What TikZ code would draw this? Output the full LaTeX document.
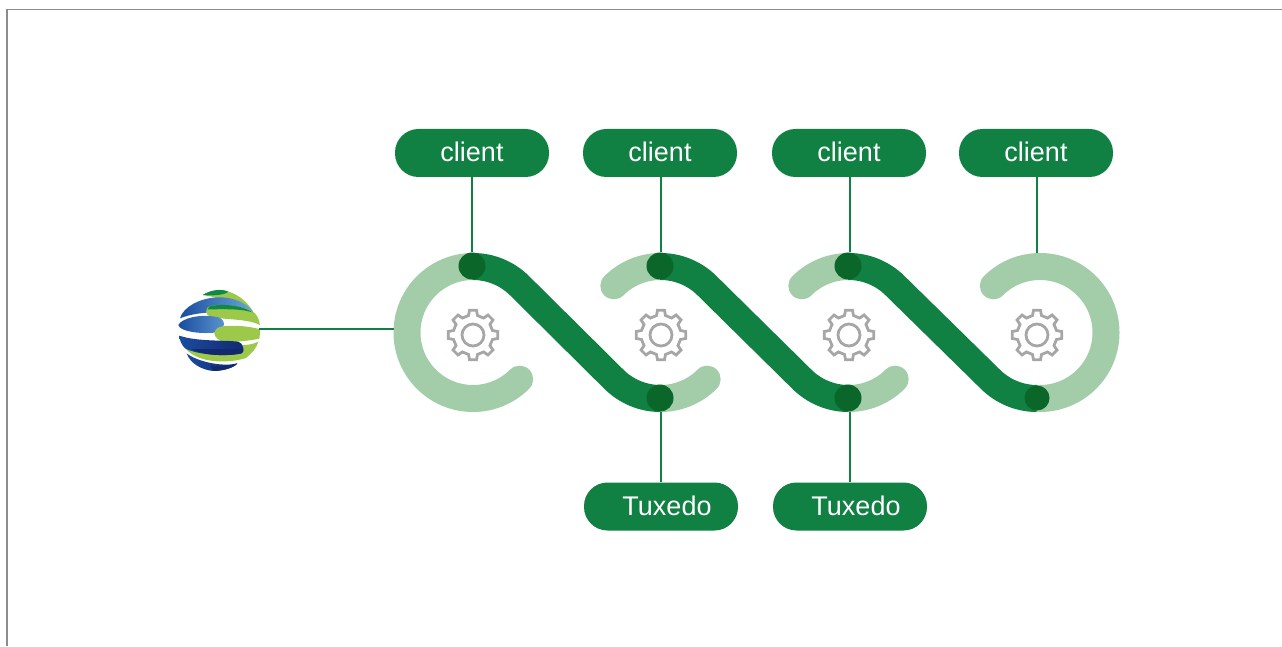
\documentclass[tikz,border=0pt]{standalone}
\usepackage{fontspec}
\setmainfont{Liberation Sans}
\usetikzlibrary{positioning}
\definecolor{ribbon}{HTML}{108043}
\definecolor{ribbonlight}{HTML}{A3CDA9}
\definecolor{joint}{HTML}{0A6629}
\definecolor{gearcol}{HTML}{A6A6A6}
\definecolor{framecol}{HTML}{8C8C8C}
\definecolor{limeg}{HTML}{9CC94A}
\definecolor{deepg}{HTML}{0E8A45}
\definecolor{navy}{HTML}{12296F}
\definecolor{midblue}{HTML}{1A4C9F}
\definecolor{skyb}{HTML}{6BA8DA}

\begin{document}
\begin{tikzpicture}[x=1pt, y=1pt,
    pill/.style={draw=none, fill=ribbon, text=white, rounded corners=23.5pt, minimum width=154pt, minimum height=48pt, inner sep=0pt, text depth=2pt, font=\fontsize{27}{27}\selectfont},
    wire/.style={draw=ribbon, line width=1.6pt},
    band/.style={line width=27pt, draw=ribbon},
    bandlight/.style={line width=27pt, draw=ribbonlight, line cap=round},
    dot/.style={circle, fill=joint, minimum size=27pt, inner sep=0pt},
    gear/.pic={
      \draw[gearcol, line width=2.8pt, line join=miter]
        (-13:20) foreach \a in {0,45,...,315} {
          -- (\a-13:20) -- (\a-8:25) -- (\a+8:25) -- (\a+13:20) } -- cycle;
      \draw[gearcol, line width=2.8pt] (0,0) circle (11);
    }]
   \useasboundingbox (0,0) rectangle (1282,646);

   % Frame
   \draw[framecol, line width=1.8pt] (7,0) -- (7,636.5) -- (1282,636.5);

   % Light parts of the rings
   \draw[bandlight] (473,379.5) arc[start angle=90, end angle=315, radius=66];
   \foreach \cx in {660.5,848.5} {
     \draw[bandlight] ([shift={(\cx,313.5)}]135:66) arc[start angle=135, end angle=90, radius=66];
     \draw[bandlight] ([shift={(\cx,313.5)}]270:66) arc[start angle=270, end angle=315, radius=66];
   }
   \draw[bandlight] ([shift={(1040,313.5)}]135:66) arc[start angle=135, end angle=-90, radius=66];

   % Dark ribbons
   \foreach \ca/\cb in {473/660.5,660.5/848.5,848.5/1037} {
     \draw[band] (\ca,379.5) arc[start angle=90, end angle=45, radius=66]
       -- ([shift={(\cb,313.5)}]225:66) arc[start angle=225, end angle=270, radius=66];
   }

   % Gears
   \foreach \cx in {473,661,849,1037} {
     \pic at (\cx,311) {gear};
   }

   % Joints
   \node[dot] (top1) at (472,380) {};
   \node[dot] (top2) at (660,380) {};
   \node[dot] (top3) at (848,380) {};
   \node[dot] (bot2) at (660,248) {};
   \node[dot] (bot3) at (848,248) {};
   \node[dot, minimum size=25pt] (bot4) at (1037,248) {};
   \coordinate (top4) at (1037,393);
   \coordinate (ringin) at (394,317);

   % Clients and servers
   \node[pill] (client1) at (472,493) {client};
   \node[pill] (client2) at (660,493) {client};
   \node[pill] (client3) at (849,493) {client};
   \node[pill] (client4) at (1036,493) {client};
   \node[pill] (tux1) at (661,139.5) {\hspace*{12pt}Tuxedo};
   \node[pill] (tux2) at (850,139.5) {\hspace*{12pt}Tuxedo};

   % Wires
   \draw[wire] (client1.south) -- (client1.south |- top1.north);
   \draw[wire] ([xshift=1pt]client2.south) -- ([xshift=1pt]client2.south |- top2.north);
   \draw[wire] ([xshift=1pt]client3.south) -- ([xshift=1pt]client3.south |- top3.north);
   \draw[wire] ([xshift=1pt]client4.south) -- ([xshift=1pt]client4.south |- top4);
   \draw[wire] (tux1.north) -- (tux1.north |- bot2.south);
   \draw[wire] (tux2.north) -- (tux2.north |- bot3.south);

   % Globe
   \node[circle, minimum size=80pt, inner sep=0pt] (globe) at (219,316) {};
   \begin{scope}[shift={(160,376)}, x=0.3333pt, y=-0.3333pt]
     % top band
     \fill[limeg] (128,75) .. controls (170,50) and (235,55) .. (280,125) .. controls (250,105) and (190,85) .. (128,75) -- cycle;
     \fill[deepg] (128,75) .. controls (150,60) and (185,55) .. (205,65) .. controls (195,75) and (160,78) .. (128,75) -- cycle;
     % second band
     \shade[left color=midblue, right color=skyb] (60,145) .. controls (70,110) and (120,85) .. (170,82) .. controls (220,80) and (265,100) .. (282,130) .. controls (220,125) and (120,120) .. (60,145) -- cycle;
     \fill[limeg] (150,108) .. controls (200,100) and (260,110) .. (285,130) .. controls (295,140) and (298,155) .. (300,165) .. controls (260,145) and (190,150) .. (150,140) .. controls (135,135) and (135,112) .. (150,108) -- cycle;
     \fill[deepg] (150,108) .. controls (200,100) and (250,108) .. (277,127) .. controls (240,115) and (190,118) .. (142,118) .. controls (143,113) and (146,110) .. (150,108) -- cycle;
     % left blob
     \shade[left color=midblue, right color=skyb!80!midblue] (55,165) .. controls (65,145) and (120,130) .. (175,142) .. controls (190,146) and (195,160) .. (190,170) .. controls (170,172) and (168,180) .. (163,188) .. controls (120,192) and (60,185) .. (55,165) -- cycle;
     % right blob
     \fill[limeg] (163,190) .. controls (165,175) and (180,168) .. (200,168) .. controls (240,165) and (280,172) .. (300,178) .. controls (300,188) and (300,198) .. (298,206) .. controls (270,212) and (220,218) .. (190,214) .. controls (175,211) and (165,203) .. (163,190) -- cycle;
     % lower bands
     \fill[limeg] (78,238) -- (250,225) .. controls (270,225) and (285,220) .. (295,215) .. controls (290,235) and (275,250) .. (258,264) .. controls (215,278) and (125,285) .. (78,238) -- cycle;
     \shade[left color=midblue, right color=navy] (58,197) .. controls (110,215) and (190,210) .. (235,215) .. controls (252,220) and (253,245) .. (245,250) .. controls (200,260) and (115,256) .. (75,235) .. controls (65,225) and (58,210) .. (58,197) -- cycle;
     \fill[navy] (95,238) .. controls (140,235) and (220,240) .. (250,235) .. controls (252,242) and (250,247) .. (245,250) .. controls (200,260) and (130,256) .. (95,238) -- cycle;
     \shade[left color=midblue, right color=navy] (80,250) .. controls (110,275) and (190,292) .. (232,280) .. controls (225,292) and (190,303) .. (160,303) .. controls (125,300) and (90,280) .. (80,250) -- cycle;
     \fill[navy] (152,286) .. controls (180,290) and (210,288) .. (232,280) .. controls (225,292) and (190,303) .. (160,303) .. controls (157,298) and (154,292) .. (152,286) -- cycle;
   \end{scope}
   \draw[wire] (globe.east |- ringin) -- (ringin);
\end{tikzpicture}
\end{document}
